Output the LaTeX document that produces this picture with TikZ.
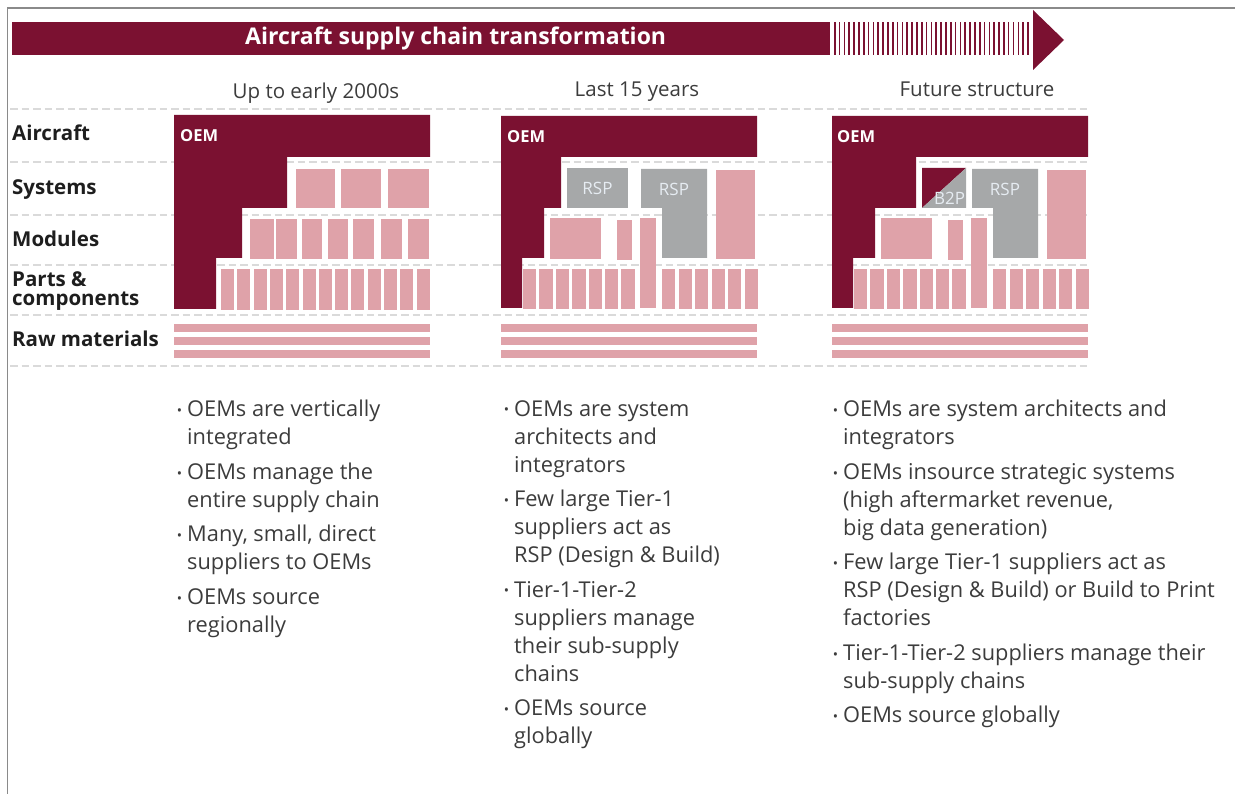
\documentclass[tikz,border=0pt]{standalone}
\usepackage{fontspec}
\setmainfont{Open Sans}
\usepackage{tikz}
\usetikzlibrary{positioning}
\definecolor{cwine}{HTML}{7B1131}
\definecolor{cpink}{HTML}{DFA2A9}
\definecolor{cgray}{HTML}{A6A8A9}
\definecolor{cpale}{HTML}{E6ECF2}
\definecolor{cdash}{HTML}{DADADA}
\definecolor{cframe}{HTML}{8A8A8A}
\definecolor{ctext}{HTML}{3C3C3C}
\definecolor{cdark}{HTML}{1E1E1E}

% small bullet hung left of the item text
\newcommand{\bul}{\llap{\raisebox{1.2pt}{\fontsize{14}{14}\selectfont\textbullet}\hspace{5pt}}}

\tikzset{
  rowlabel/.style={anchor=base west, inner sep=0pt, text=cdark, font=\fontsize{20.5}{24}\selectfont\bfseries},
  colhead/.style={anchor=base, inner sep=0pt, text=ctext, font=\fontsize{20.5}{24}\selectfont},
  bullets/.style={anchor=north west, inner sep=0pt, align=left, text=ctext, font=\fontsize{21.8}{28}\selectfont},
  oemtag/.style={anchor=base west, inner sep=0pt, text=white, font=\fontsize{16.5}{20}\selectfont\bfseries},
  rsptag/.style={anchor=base, inner sep=0pt, text=cpale, font=\fontsize{17}{20}\selectfont},
  rowsep/.style={cdash, line width=2pt, dash pattern=on 7.5pt off 4pt},
}

\begin{document}
\begin{tikzpicture}[x=1pt, y=-1pt]
  \useasboundingbox (0,0) rectangle (1235,794);
  % frame
  \draw[cframe, line width=1.8pt] (7.5,794) -- (7.5,8) -- (1235,8);

  % banner, striped tail and arrow head
  \fill[cwine] (12,22) rectangle (830,55);
  \foreach \i in {0,...,40}
    \fill[cwine] ({834+4.83*\i},22) rectangle ++(1.6,33);
  \fill[cwine] (1033,10) -- (1064,40) -- (1033,70) -- cycle;
  \node[anchor=base west, inner sep=0pt, text=white, font=\fontsize{23}{26}\selectfont\bfseries]
    (title) at (245,45) {Aircraft supply chain transformation};

  % column headings
  \node[colhead] (head1) at (316,99) {Up to early 2000s};
  \node[colhead] (head2) at (637,97) {Last 15 years};
  \node[colhead] (head3) at (977,97) {Future structure};

  % dashed row separators
  \foreach \y in {109.5,162,215,265,315,366}
    \draw[rowsep] (10,\y) -- (1088,\y);

  % row labels
  \node[rowlabel] (lblair) at (12,140.7) {Aircraft};
  \node[rowlabel] (lblsys) at (12,195) {Systems};
  \node[rowlabel] (lblmod) at (12,246.7) {Modules};
  \node[rowlabel] (lblparts) at (12,286.5) {Parts \&};
  \node[rowlabel] (lblcomp) at (12,306) {components};
  \node[rowlabel] (lblraw) at (12,346.7) {Raw materials};

  % ---- up to early 2000s
  \fill[cwine] (174,115) -- (430,115) -- (430,157) -- (287,157) -- (287,208) -- (242,208)
    -- (242,258) -- (216,258) -- (216,309) -- (174,309) -- cycle;
  \node[oemtag] (oem1) at (180,142) {OEM};
  % systems
  \foreach \a/\b in {296/335,341/381,388/429}
    \fill[cpink] (\a,169) rectangle (\b,208);
  % modules
  \foreach \a/\b in {250/274,276/297,302/322,328/348,353/374,381/402,408/429}
    \fill[cpink] (\a,219) rectangle (\b,259);
  % parts
  \foreach \i in {0,...,12}
    \fill[cpink] ({221+16.3*\i},269) rectangle ++(13,41);

  % ---- last 15 years and future structure share the lower tiers
  \foreach \dx in {0,331}{
    \fill[cgray] (641+\dx,169) -- (707+\dx,169) -- (707+\dx,258) -- (662+\dx,258)
      -- (662+\dx,208) -- (641+\dx,208) -- cycle;
    \fill[cpink] (716+\dx,170) rectangle (755+\dx,259);
    \fill[cpink] (550+\dx,218) rectangle (601+\dx,259);
    \fill[cpink] (617+\dx,220) rectangle (632+\dx,260);
    \fill[cpink] (640+\dx,218) rectangle (656+\dx,308);
    \foreach \i in {0,...,6}
      \fill[cpink] ({523+\dx+16.4*\i},269) rectangle ++(13.3,40);
    \foreach \i in {0,...,5}
      \fill[cpink] ({662+\dx+16.5*\i},269) rectangle ++(13,40);
  }

  % last 15 years: OEM and two RSPs
  \fill[cwine] (501,116) -- (757,116) -- (757,157) -- (561,157) -- (561,208) -- (544,208)
    -- (544,258) -- (522,258) -- (522,308) -- (501,308) -- cycle;
  \node[oemtag] (oem2) at (507,143) {OEM};
  \fill[cgray] (567,168) rectangle (628,208);
  \node[rsptag] (rsp1) at (597.5,195) {RSP};
  \node[rsptag] (rsp2) at (674,196) {RSP};

  % future structure: bigger OEM, build-to-print box
  \fill[cwine] (832,116) -- (1088,116) -- (1088,157) -- (916,157) -- (916,208) -- (875,208)
    -- (875,258) -- (853,258) -- (853,308) -- (832,308) -- cycle;
  \node[oemtag] (oem3) at (837,143) {OEM};
  \fill[cwine] (922,168) -- (966,168) -- (922,208) -- cycle;
  \fill[cgray] (966,168) -- (966,208) -- (922,208) -- cycle;
  \node[rsptag] (b2p) at (949.5,205) {B2P};
  \node[rsptag] (rsp3) at (1005,196) {RSP};

  % raw materials bars
  \foreach \a/\b in {174/430,501/757,832/1088}
    \foreach \y in {324,337,350}
      \fill[cpink] (\a,\y) rectangle (\b,\y+8);

  % bullet lists
  \node[bullets] (list1) at (187,400) {\bul OEMs are vertically\\integrated\\[6.5pt]
    \bul OEMs manage the\\entire supply chain\\[6.5pt]
    \bul Many, small, direct\\suppliers to OEMs\\[6.5pt]
    \bul OEMs source\\regionally};
  \node[bullets] (list2) at (514,400) {\bul OEMs are system\\architects and\\integrators\\[6.5pt]
    \bul Few large Tier-1\\suppliers act as\\RSP (Design \& Build)\\[6.5pt]
    \bul Tier-1-Tier-2\\suppliers manage\\their sub-supply\\chains\\[6.5pt]
    \bul OEMs source\\globally};
  \node[bullets] (list3) at (843,400) {\bul OEMs are system architects and\\integrators\\[6.5pt]
    \bul OEMs insource strategic systems\\(high aftermarket revenue,\\big data generation)\\[6.5pt]
    \bul Few large Tier-1 suppliers act as\\RSP (Design \& Build) or Build to Print\\factories\\[6.5pt]
    \bul Tier-1-Tier-2 suppliers manage their\\sub-supply chains\\[6.5pt]
    \bul OEMs source globally};
\end{tikzpicture}
\end{document}
